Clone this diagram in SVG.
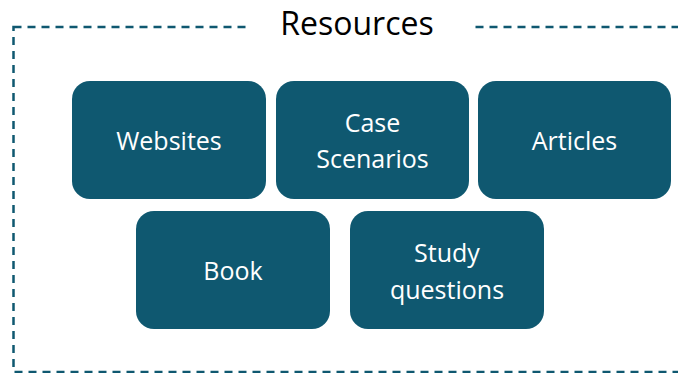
<svg xmlns="http://www.w3.org/2000/svg" width="678" height="373" viewBox="0 0 678 373">
<style>
.box{fill:#0F5870;}
.lbl{fill:#ffffff;font-family:"Open Sans","Liberation Sans",sans-serif;font-size:25px;text-anchor:middle;dominant-baseline:central;}
.title{fill:#000000;font-family:"Open Sans","Liberation Sans",sans-serif;font-size:32px;text-anchor:middle;dominant-baseline:central;}
.frame{fill:none;stroke:#0F5870;stroke-width:2.5;stroke-dasharray:8 6;}
</style>
<rect width="678" height="373" fill="#ffffff"/>
<g id="frame">
<rect class="frame" x="13.5" y="27" width="700" height="345"/>
<rect x="246" y="4" width="228" height="40" fill="#ffffff"/>
<text class="title" x="357" y="22">Resources</text>
</g>
<g id="websites"><rect class="box" x="72" y="81" width="194" height="118" rx="18"/><text class="lbl" x="169" y="140">Websites</text></g>
<g id="case"><rect class="box" x="276" y="81" width="193" height="118" rx="18"/><text class="lbl" x="372.5" y="122">Case</text><text class="lbl" x="372.5" y="158">Scenarios</text></g>
<g id="articles"><rect class="box" x="478" y="81" width="193" height="118" rx="18"/><text class="lbl" x="574.5" y="140">Articles</text></g>
<g id="book"><rect class="box" x="136" y="211" width="194" height="118" rx="18"/><text class="lbl" x="233" y="270">Book</text></g>
<g id="study"><rect class="box" x="350" y="211" width="194" height="118" rx="18"/><text class="lbl" x="447" y="252">Study</text><text class="lbl" x="447" y="289">questions</text></g>
<g id="connectors"></g>
</svg>
